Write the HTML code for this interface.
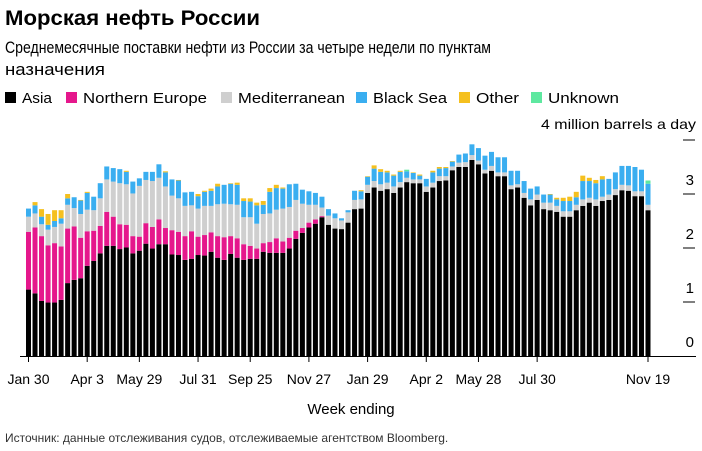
<!DOCTYPE html>
<html><head><meta charset="utf-8"><style>
html,body{margin:0;padding:0;background:#fff;}
svg{display:block;font-family:"Liberation Sans","Noto Sans CJK SC",sans-serif;}
</style></head><body>
<svg id="chart" width="702" height="451" viewBox="0 0 702 451">
<text x="5" y="25" font-size="21" font-weight="bold" fill="#000" textLength="255" lengthAdjust="spacingAndGlyphs">Морская нефть России</text>
<text x="5" y="53" font-size="17" fill="#000" textLength="486" lengthAdjust="spacingAndGlyphs">Среднемесячные поставки нефти из России за четыре недели по пунктам</text>
<text x="5" y="75" font-size="17" fill="#000" textLength="100" lengthAdjust="spacingAndGlyphs">назначения</text>
<g id="legend"></g>
<text x="696" y="129" font-size="14" text-anchor="end" fill="#000" textLength="155" lengthAdjust="spacingAndGlyphs">4 million barrels a day</text>
<g id="bars"></g>
<g id="axes"></g>
<text x="351" y="414" font-size="15" text-anchor="middle" fill="#000">Week ending</text>
<text x="5" y="442" font-size="12" fill="#333">Источник: данные отслеживания судов, отслеживаемые агентством Bloomberg.</text>
</svg>
<script>
const seriesNames = ["Asia","Northern Europe","Mediterranean","Black Sea","Other","Unknown"];
const seriesColors = ["#000000","#e5178c","#cfcfcf","#3aaef0","#f5c01f","#5ee8a0"];
const asia = [1.23,1.16,1.02,0.99,0.99,1.04,1.35,1.41,1.44,1.67,1.76,1.90,2.04,2.04,1.98,2.01,1.90,1.95,2.08,1.99,2.07,2.07,1.88,1.87,1.78,1.80,1.87,1.86,1.93,1.82,1.78,1.89,1.82,1.78,1.80,1.80,1.93,1.91,1.91,1.91,1.99,2.17,2.28,2.38,2.45,2.57,2.43,2.36,2.35,2.47,2.72,2.73,3.02,3.12,3.06,3.09,3.02,3.12,3.22,3.20,3.20,3.04,3.12,3.24,3.25,3.44,3.50,3.50,3.63,3.55,3.38,3.43,3.33,3.33,3.09,3.12,2.93,2.79,2.89,2.72,2.70,2.67,2.58,2.58,2.70,2.78,2.84,2.78,2.87,2.89,2.98,3.07,3.06,2.96,2.96,2.70];
const northernEurope = [1.07,1.22,1.20,1.06,1.10,0.99,1.01,0.99,0.75,0.64,0.56,0.51,0.63,0.54,0.46,0.42,0.32,0.26,0.38,0.40,0.46,0.30,0.45,0.43,0.44,0.51,0.34,0.38,0.36,0.40,0.42,0.33,0.36,0.29,0.24,0.19,0.16,0.20,0.27,0.21,0.20,0.15,0.09,0.09,0.08,0.02,0,0,0,0,0,0,0,0,0,0,0,0,0,0,0,0,0,0,0,0,0,0,0,0,0,0,0,0,0,0,0,0,0,0,0,0,0,0,0,0,0,0,0,0,0,0,0,0,0,0];
const mediterranean = [0.28,0.26,0.22,0.29,0.30,0.42,0.44,0.34,0.44,0.40,0.38,0.51,0.60,0.65,0.76,0.75,0.79,0.94,0.80,0.85,0.77,0.77,0.64,0.62,0.56,0.48,0.52,0.54,0.49,0.59,0.62,0.59,0.62,0.50,0.53,0.46,0.54,0.53,0.53,0.61,0.57,0.57,0.45,0.33,0.27,0.16,0.17,0.19,0.16,0.19,0.17,0.17,0.15,0.12,0.12,0.12,0.12,0.10,0.08,0.07,0.07,0.10,0.09,0.09,0.08,0.07,0.08,0.09,0.09,0.07,0.07,0.09,0.07,0.07,0.07,0.06,0.09,0.11,0.10,0.12,0.14,0.11,0.10,0.10,0.10,0.12,0.09,0.12,0.08,0.10,0.11,0.10,0.10,0.09,0.09,0.10];
const blackSea = [0.15,0.15,0.14,0.09,0.11,0.10,0.12,0.20,0.25,0.31,0.25,0.28,0.24,0.25,0.26,0.23,0.22,0.14,0.15,0.17,0.25,0.26,0.30,0.33,0.25,0.25,0.23,0.26,0.28,0.33,0.35,0.38,0.37,0.30,0.29,0.34,0.17,0.40,0.40,0.37,0.42,0.30,0.26,0.25,0.22,0.20,0.12,0.09,0.04,0.04,0.17,0.15,0.15,0.23,0.23,0.19,0.20,0.19,0.12,0.12,0.07,0.14,0.19,0.14,0.15,0.09,0.15,0.16,0.20,0.23,0.26,0.26,0.28,0.28,0.27,0.25,0.22,0.20,0.15,0.15,0.15,0.12,0.19,0.19,0.14,0.34,0.31,0.30,0.32,0.29,0.31,0.35,0.36,0.45,0.40,0.39];
const other = [0,0.06,0.14,0.20,0.20,0.15,0.08,0,0.01,0.02,0,0,0,0,0,0.02,0,0,0,0,0,0.02,0,0.01,0,0,0.04,0.02,0.04,0.05,0,0.01,0.04,0.05,0.06,0.05,0.07,0.07,0.06,0.02,0,0,0,0,0,0,0,0,0,0,0,0.02,0.01,0.06,0.05,0.03,0.02,0.02,0,0.01,0.02,0,0.03,0.03,0.02,0.01,0,0,0,0,0,0,0,0,0,0,0,0,0,0,0.01,0.03,0.06,0.08,0.10,0.10,0.06,0.06,0.06,0,0,0,0,0,0,0];
const unknown = [0,0,0,0,0,0,0,0,0,0,0,0,0,0,0,0,0,0,0,0,0,0,0,0,0,0,0,0,0,0,0,0,0,0,0,0,0,0,0,0,0,0,0,0,0,0,0,0,0,0,0,0,0,0,0,0,0,0,0.03,0,0,0,0,0,0,0,0,0,0,0,0,0,0,0,0,0,0,0,0,0,0,0,0,0,0,0,0,0,0,0,0,0,0,0,0,0.06];
const yTicks = [0,1,2,3,4];
const yTickLabels = ["0","1","2","3",""];
const xTickIndex = [0,9,17,26,34,43,52,61,69,78,95];
const xTickLabels = ["Jan 30","Apr 3","May 29","Jul 31","Sep 25","Nov 27","Jan 29","Apr 2","May 28","Jul 30","Nov 19"];

const NS="http://www.w3.org/2000/svg";
const svg=document.getElementById('chart');
const base=356, unit=54, x0=28.5, x1=648;
const n=asia.length;
const step=(x1-x0)/(n-1);
function xScale(i){return x0+i*step;}
function yScale(v){return base-v*unit;}
function mk(tag,attrs,parent){const e=document.createElementNS(NS,tag);for(const k in attrs)e.setAttribute(k,attrs[k]);parent.appendChild(e);return e;}

// legend
const legend=document.getElementById('legend');
const legX=[5,66,221,356,459,531];
const legW=[30,124,107,74,43,71];
seriesNames.forEach((nm,i)=>{
  const r=mk('rect',{x:legX[i],y:92,width:11,height:11,fill:seriesColors[i]},legend);
  
  
  const t=mk('text',{x:legX[i]+17,y:103,'font-size':15,fill:'#000',textLength:legW[i],lengthAdjust:'spacingAndGlyphs'},legend);
  t.textContent=nm;
  
  
});

// bars
const barsG=document.getElementById('bars');
const series=[asia,northernEurope,mediterranean,blackSea,other,unknown];
const bw=5;
for(let i=0;i<n;i++){
  let cum=0;
  series.forEach((s,k)=>{
    const v=s[i]; if(!v) return;
    const yTop=yScale(cum+v), yBot=yScale(cum);
    const r=mk('rect',{x:(xScale(i)-bw/2).toFixed(2),y:yTop.toFixed(2),width:bw,height:(yBot-yTop).toFixed(2),fill:seriesColors[k]},barsG);
    
    
    cum+=v;
  });
}

// axes
const ax=document.getElementById('axes');
const bl=mk('line',{x1:20,x2:696,y1:base+0.5,y2:base+0.5,stroke:'#000','stroke-width':1},ax);


yTicks.forEach((v,i)=>{
  if(v>0){
    const tk=mk('line',{x1:683,x2:695,y1:yScale(v),y2:yScale(v),stroke:'#000','stroke-width':1},ax);
    
    
  }
  if(yTickLabels[i]){
    const t=mk('text',{x:694,y:yScale(v)-9,'font-size':15,'text-anchor':'end',fill:'#000'},ax);
    t.textContent=yTickLabels[i];
    
    
  }
});
xTickIndex.forEach((idx,i)=>{
  const x=xScale(idx);
  const tk=mk('line',{x1:x,x2:x,y1:base,y2:base+6,stroke:'#000','stroke-width':1},ax);
  
  
  const t=mk('text',{x:x,y:384,'font-size':14,'text-anchor':'middle',fill:'#000'},ax);
  t.textContent=xTickLabels[i];
  
  
});
</script>
</body></html>
